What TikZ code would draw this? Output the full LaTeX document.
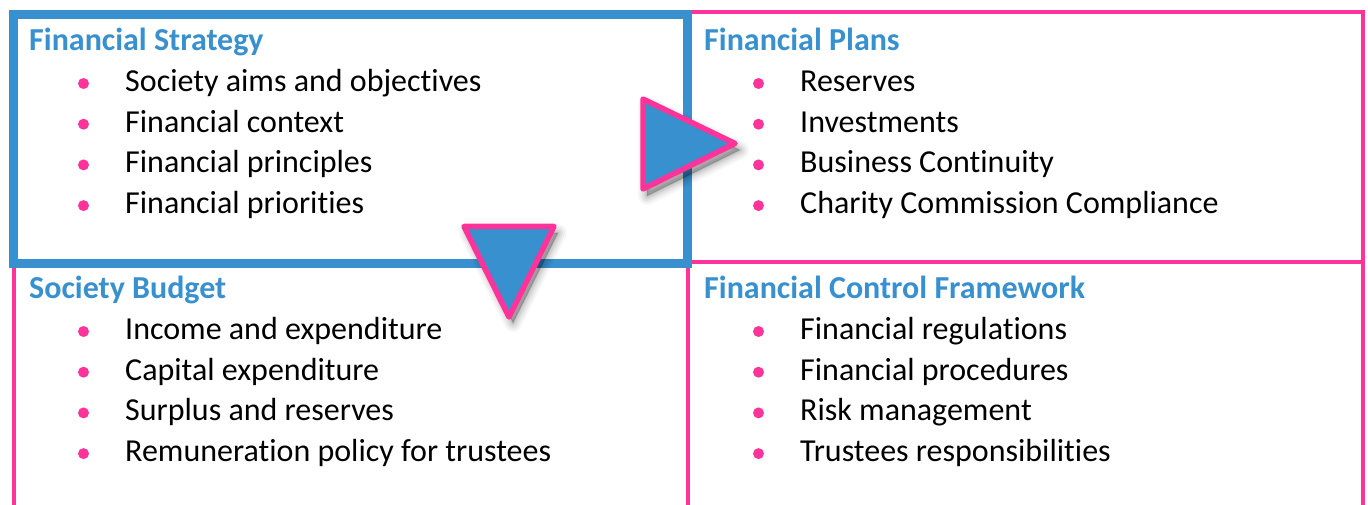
\documentclass[tikz,border=0pt]{standalone}
\usepackage{fontspec}
\setmainfont{Carlito}[Ligatures=NoCommon]
\definecolor{fblue}{RGB}{56,144,207}
\definecolor{fpink}{RGB}{255,51,153}
\tikzset{
  title/.style={anchor=base west,inner sep=0pt,text=fblue,font=\fontsize{32}{38}\selectfont\bfseries},
  item/.style={anchor=base west,inner sep=0pt,text=black,font=\fontsize{32}{38}\selectfont},
  dot/.style={circle,fill=fpink,inner sep=0pt,minimum size=11pt},
  pinkline/.style={draw=fpink,line width=4pt},
  bluebox/.style={draw=fblue,line width=9pt},
  tri/.style={fill=fblue,draw=fpink,line width=5.5pt,line join=round},
  shade/.style={fill=black,draw=black,line join=round}
}
\begin{document}
\begin{tikzpicture}[x=1pt,y=-1pt]
\useasboundingbox (0,0) rectangle (1368,505);
% pink grid
\draw[pinkline] (14,12) -- (1363,12) -- (1363,505);
\draw[pinkline] (688,262) -- (1363,262);
\draw[pinkline] (688,262) -- (688,505);
\draw[pinkline] (14,262) -- (14,505);
% blue box
\draw[bluebox] (13.5,14.5) rectangle (687.5,263);
% texts
\newcommand{\quadrant}[6]{%
  \node[title] (#1t) at (#2,#3) {#4};
  \foreach \txt [count=\i] in {#5} {
    \node[dot] (#1d\i) at ({#2+54.5},{#3+33+40.7*(\i-1)}) {};
    \node[item] (#1i\i) at ({#2+96},{#3+41+40.7*(\i-1)}) {\txt};
  }}
\quadrant{a}{29}{50.5}{Financial Strategy}{Society aims and objectives,Financial context,Financial principles,Financial priorities}{}
\quadrant{b}{704}{50.5}{Financial Plans}{Reserves,Investments,Business Continuity,Charity Commission Compliance}{}
\quadrant{c}{29}{298.5}{Society Budget}{Income and expenditure,Capital expenditure,Surplus and reserves,Remuneration policy for trustees}{}
\quadrant{d}{704}{298.5}{Financial Control Framework}{Financial regulations,Financial procedures,Risk management,Trustees responsibilities}{}
% triangles with soft shadows
\foreach \w/\o in {18/0.03,14/0.04,10/0.05,6/0.07,2/0.09} {
  \draw[shade,line width=\w pt,opacity=\o] (647,105) -- (647,196) -- (740,150) -- cycle;
  \draw[shade,line width=\w pt,opacity=\o] (468,233) -- (558,233) -- (513,323) -- cycle;
}
\draw[tri] (643,99) -- (643,189) -- (735,143.5) -- cycle;
\draw[tri] (464,226.5) -- (554,226.5) -- (509,317) -- cycle;
\end{tikzpicture}
\end{document}
